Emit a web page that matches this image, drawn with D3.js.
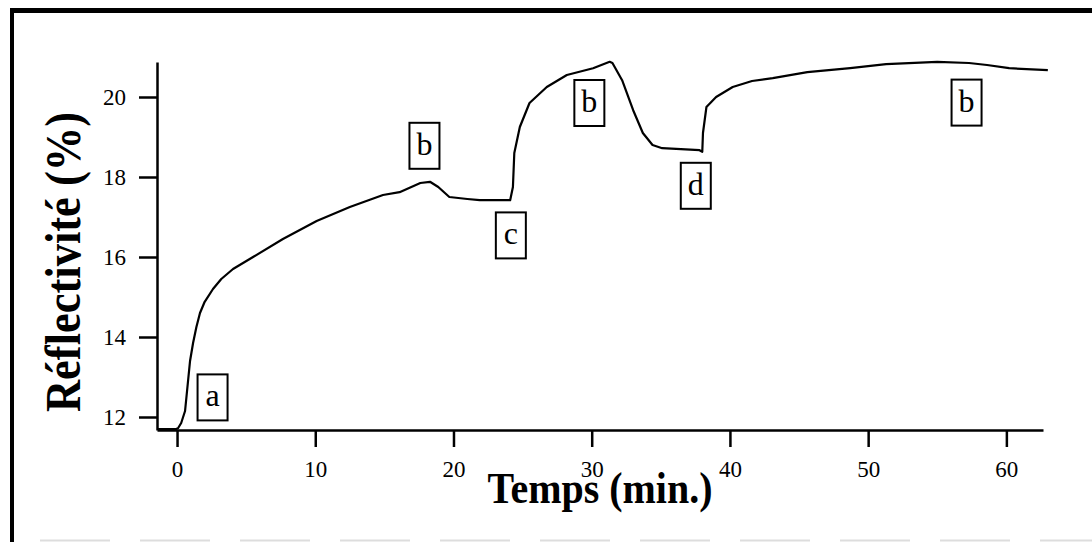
<html>
<head>
<meta charset="utf-8">
<script src="https://d3js.org/d3.v7.min.js"></script>
<style>
  body { margin: 0; background: #fff; }
  text { font-family: "Liberation Serif", "Times New Roman", serif; }
</style>
</head>
<body>
<svg width="1092" height="542" id="graph1"></svg>
<script>

// time (min) and reflectivity (%)
var temps = [-1.45, -0.07, 0.07, 0.3, 0.58, 0.94, 1.16, 1.4, 1.66, 2.0, 2.6, 3.2, 4.05, 5.5, 7.66, 10.1, 12.5, 14.9,
  16.1, 17.6, 18.3, 18.9, 19.7, 21.0, 21.9, 24.1, 24.3, 24.4, 24.8, 25.5, 26.75, 28.2, 30.1,
  31.3, 31.5, 32.2, 33.0, 33.7, 34.4, 35.1, 37.8, 38.0, 38.05, 38.3, 39.0, 40.2, 41.6, 43.1,
  45.6, 48.7, 51.3, 55.0, 57.3, 58.6, 60.2, 63.0];
var reflect = [11.7, 11.7, 11.72, 11.85, 12.15, 13.4, 13.85, 14.25, 14.6, 14.88, 15.2, 15.45, 15.7, 16.0, 16.45, 16.9, 17.25, 17.55,
  17.62, 17.85, 17.88, 17.75, 17.5, 17.45, 17.42, 17.42, 17.75, 18.6, 19.25, 19.85, 20.25, 20.55, 20.72,
  20.88, 20.85, 20.42, 19.67, 19.1, 18.8, 18.72, 18.67, 18.63, 19.1, 19.75, 20.0, 20.25, 20.4, 20.47,
  20.62, 20.72, 20.82, 20.88, 20.85, 20.8, 20.72, 20.67];

// boxed letters: label, time, reflectivity of the box centre
var boxLabels = ["a", "b", "c", "b", "d", "b"];
var boxTemps = [2.57, 17.9, 24.15, 29.83, 37.53, 57.12];
var boxReflect = [12.49, 18.78, 16.54, 19.85, 17.78, 19.86];

var xTicks = [0, 10, 20, 30, 40, 50, 60];
var yTicks = [12, 14, 16, 18, 20];

var svg = d3.select("#graph1");

// outer frame (top and left edges show, the rest runs off the page)
svg.append("line").attr("x1", 10).attr("x2", 1092).attr("y1", 10.5).attr("y2", 10.5)
  .style("stroke", "#000").style("stroke-width", 5);
svg.append("line").attr("x1", 12).attr("x2", 12).attr("y1", 8).attr("y2", 542)
  .style("stroke", "#000").style("stroke-width", 4);
svg.append("line").attr("x1", 40).attr("x2", 1092).attr("y1", 540.5).attr("y2", 540.5)
  .style("stroke", "#ddd").style("stroke-width", 2).style("stroke-dasharray", "70,30");

var x = d3.scaleLinear().domain([-1.45, 62.65]).range([157, 1043]);
var y = d3.scaleLinear().domain([11.675, 20.875]).range([430, 62]);

var xAxis = svg.append("g").attr("transform", "translate(0,430)")
  .call(d3.axisBottom(x).tickValues(xTicks).tickSize(17).tickSizeOuter(0).tickPadding(14));
var yAxis = svg.append("g").attr("transform", "translate(157,0)")
  .call(d3.axisLeft(y).tickValues(yTicks).tickSize(18).tickSizeOuter(0).tickPadding(13));

[xAxis, yAxis].forEach(function(g) {
  g.attr("font-size", null).attr("font-family", null);
  g.select(".domain").style("stroke", "#000").style("stroke-width", 2.5);
  g.selectAll(".tick line").style("stroke", "#000").style("stroke-width", 2.5);
  g.selectAll(".tick text").style("font-family", "Liberation Serif").style("font-size", "23px")
    .style("fill", "#000");
});

// the reflectivity trace
var points = temps.map(function(t, i) { return [t, reflect[i]]; });
var line = d3.line().x(function(d) { return x(d[0]); }).y(function(d) { return y(d[1]); });
svg.append("path").datum(points).attr("d", line)
  .style("fill", "none").style("stroke", "#000").style("stroke-width", 2.2)
  .style("stroke-linejoin", "round");

// boxed letters
boxLabels.forEach(function(lab, i) {
  var cx = x(boxTemps[i]), cy = y(boxReflect[i]);
  svg.append("rect").attr("x", cx - 15).attr("y", cy - 23).attr("width", 30).attr("height", 46)
    .style("fill", "none").style("stroke", "#000").style("stroke-width", 2);
  svg.append("text").attr("x", cx).attr("y", cy + 9).attr("text-anchor", "middle")
    .style("font-size", "32px").text(lab);
});

// axis titles
svg.append("text").attr("x", 600).attr("y", 503).attr("text-anchor", "middle")
  .attr("textLength", 225).attr("lengthAdjust", "spacingAndGlyphs")
  .style("font-size", "44px").style("font-weight", "bold").text("Temps (min.)");

svg.append("text").attr("transform", "translate(80,262) rotate(-90)").attr("text-anchor", "middle")
  .attr("textLength", 300).attr("lengthAdjust", "spacingAndGlyphs")
  .style("font-size", "50px").style("font-weight", "bold").text("Réflectivité (%)");

</script>
</body>
</html>
